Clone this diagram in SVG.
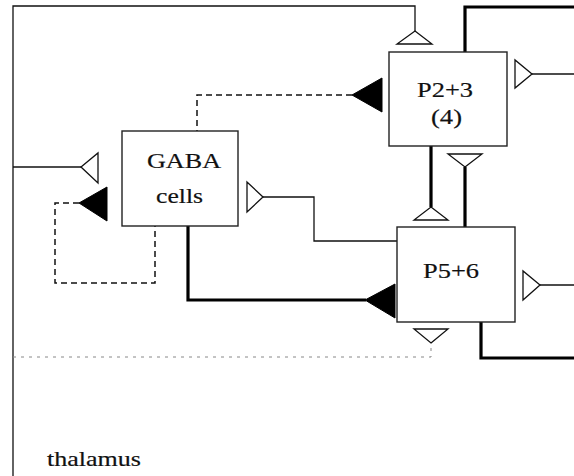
<svg xmlns="http://www.w3.org/2000/svg" width="574" height="476" viewBox="0 0 574 476">
<style>
.box{fill:#fff;stroke:#222;stroke-width:1.4}
.lbl{font-family:"Liberation Serif","Times New Roman",serif;font-size:22px;fill:#111;stroke:#111;stroke-width:0.2}
.thin{fill:none;stroke:#111;stroke-width:1.3}
.thick{fill:none;stroke:#000;stroke-width:3.2}
.dash{fill:none;stroke:#111;stroke-width:1.5;stroke-dasharray:6 4}
.dot{fill:none;stroke:#888;stroke-width:1;stroke-dasharray:3 5}
.open{fill:#fff;stroke:#111;stroke-width:1.3;stroke-linejoin:miter}
.solid{fill:#000;stroke:#000;stroke-width:1}
</style>
<rect width="574" height="476" fill="#fff"/>
<g id="connectors">
  <path class="thin" d="M415,31 V6 H13 V476"/>
  <path class="thin" d="M13,167 H81"/>
  <path class="dot" d="M13,357 H431 V343"/>
  <path class="dash" d="M352,95 H197 V131"/>
  <path class="dash" d="M79,203 H55 V283 H155 V226"/>
  <path class="thin" d="M263,197 H314 V241 H397"/>
  <path class="thick" d="M188,226 V300 H366"/>
  <path class="thick" d="M431,146 V207"/>
  <path class="thick" d="M465,227 V167"/>
  <path class="thick" d="M465,52 V7 H574"/>
  <path class="thin" d="M532,74 H574"/>
  <path class="thin" d="M540,285 H574"/>
  <path class="thick" d="M481,322 V358 H574"/>
  <polygon class="open" points="415,31 432,44 397,44"/>
  <polygon class="open" points="81,167 98,153 98,183"/>
  <polygon class="solid" points="79,203 107,187 107,221"/>
  <polygon class="solid" points="352,95 382,78 382,112"/>
  <polygon class="open" points="263,197 247,182 247,212"/>
  <polygon class="solid" points="365,300 395,284 395,318"/>
  <polygon class="open" points="431,207 448,220 414,220"/>
  <polygon class="open" points="465,167 482,154 448,154"/>
  <polygon class="open" points="532,74 515,60 515,88"/>
  <polygon class="open" points="540,285 523,271 523,300"/>
  <polygon class="open" points="431,343 448,329 414,329"/>
</g>
<g id="gaba">
  <rect class="box" x="122" y="131" width="116" height="95"/>
  <text class="lbl" x="147" y="168" textLength="74" lengthAdjust="spacingAndGlyphs">GABA</text>
  <text class="lbl" x="156" y="203" textLength="47" lengthAdjust="spacingAndGlyphs">cells</text>
</g>
<g id="p23">
  <rect class="box" x="389" y="52" width="118" height="94"/>
  <text class="lbl" x="417" y="97" textLength="56" lengthAdjust="spacingAndGlyphs">P2+3</text>
  <text class="lbl" x="431" y="124" textLength="31" lengthAdjust="spacingAndGlyphs">(4)</text>
</g>
<g id="p56">
  <rect class="box" x="397" y="227" width="118" height="95"/>
  <text class="lbl" x="423" y="278" textLength="56" lengthAdjust="spacingAndGlyphs">P5+6</text>
</g>
<g id="thalamus">
  <text class="lbl" x="47" y="466" textLength="94" lengthAdjust="spacingAndGlyphs">thalamus</text>
</g>
</svg>
